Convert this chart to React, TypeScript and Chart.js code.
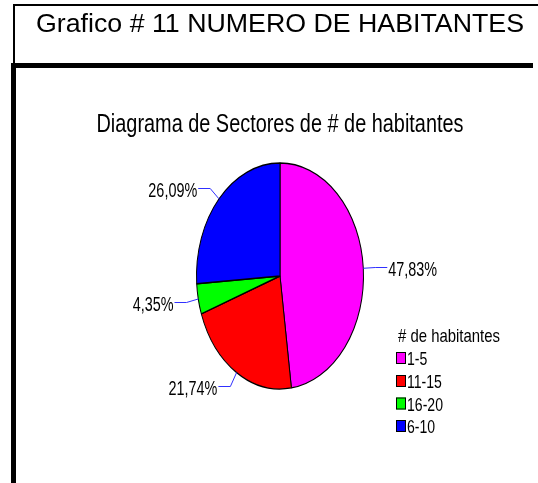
import React, { useEffect, useRef } from "react";
import { Chart, registerables } from "chart.js";

Chart.register(...registerables);

// ---- data ----
const categories = ["1-5", "11-15", "16-20", "6-10"];
const percentages = [47.83, 21.74, 4.35, 26.09];
const sliceColors = ["#FF00FF", "#FF0000", "#00FF00", "#0000FF"];
const pageTitle = "Grafico # 11 NUMERO DE HABITANTES";
const chartTitle = "Diagrama de Sectores de # de habitantes";
const legendTitle = "# de habitantes";

const FONT = '"Liberation Sans", Arial, sans-serif';
const Y_SCALE = 113 / 83.5;

function formatPct(v: number) {
  return v.toFixed(2).replace(".", ",") + "%";
}

function drawText(
  ctx: CanvasRenderingContext2D,
  text: string,
  x: number,
  y: number,
  size: number,
  opts: { width?: number; scaleX?: number; align?: "left" | "right" | "center" }
) {
  ctx.save();
  ctx.font = `${size}px ${FONT}`;
  ctx.fillStyle = "#000";
  ctx.textBaseline = "alphabetic";
  ctx.textAlign = "left";
  const w = ctx.measureText(text).width;
  const sx = opts.width ? opts.width / w : opts.scaleX ?? 1;
  const drawn = w * sx;
  let left = x;
  if (opts.align === "center") left = x - drawn / 2;
  else if (opts.align === "right") left = x - drawn;
  ctx.translate(left, y);
  ctx.scale(sx, 1);
  ctx.fillText(text, 0, 0);
  ctx.restore();
}

const decorPlugin = {
  id: "decor",
  beforeDraw(chart: any) {
    const ctx: CanvasRenderingContext2D = chart.ctx;
    ctx.save();
    ctx.fillStyle = "#fff";
    ctx.fillRect(0, 0, chart.width, chart.height);
    // thin title box
    ctx.strokeStyle = "#000";
    ctx.lineWidth = 2;
    ctx.beginPath();
    ctx.moveTo(14, 64);
    ctx.lineTo(14, 5);
    ctx.lineTo(540, 5);
    ctx.stroke();
    // thick frame
    ctx.fillStyle = "#000";
    ctx.fillRect(11, 63, 522, 5);
    ctx.fillRect(11, 63, 5, 430);
    ctx.restore();
    drawText(ctx, pageTitle, 280, 32, 25, { width: 488, align: "center" });
    drawText(ctx, chartTitle, 280, 132, 25, { width: 367, align: "center" });
  },
  beforeDatasetsDraw(chart: any) {
    const ctx: CanvasRenderingContext2D = chart.ctx;
    const arc = chart.getDatasetMeta(0).data[0];
    ctx.save();
    ctx.translate(arc.x, arc.y);
    ctx.scale(1, Y_SCALE);
    ctx.translate(-arc.x, -arc.y);
  },
  afterDatasetsDraw(chart: any) {
    chart.ctx.restore();
  },
  afterDraw(chart: any) {
    const ctx: CanvasRenderingContext2D = chart.ctx;
    const meta = chart.getDatasetMeta(0);
    meta.data.forEach((el: any, i: number) => {
      const mid = (el.startAngle + el.endAngle) / 2;
      const c = Math.cos(mid);
      const s = Math.sin(mid);
      const r = el.outerRadius;
      const px = el.x + r * c;
      const py = el.y + r * Y_SCALE * s;
      const ex = px + 12 * c;
      const ey = Math.round(py + 12 * 1.3 * s) + 0.5;
      const dir = c >= 0 ? 1 : -1;
      const hx = ex + dir * 12;
      ctx.save();
      ctx.strokeStyle = "#3030ff";
      ctx.lineWidth = 1;
      ctx.beginPath();
      ctx.moveTo(px, py);
      ctx.lineTo(ex, ey);
      ctx.lineTo(hx, ey);
      ctx.stroke();
      ctx.restore();
      drawText(ctx, formatPct(percentages[i]), hx + dir * 1, ey + 8, 20, {
        scaleX: 0.72,
        align: dir > 0 ? "left" : "right",
      });
    });
    // legend
    drawText(ctx, legendTitle, 398, 342, 19, { width: 102, align: "left" });
    const rows = [358, 381, 403.5, 426];
    categories.forEach((cat, i) => {
      const cy = rows[i];
      ctx.save();
      ctx.fillStyle = sliceColors[i];
      ctx.fillRect(396, cy - 6, 10, 12);
      ctx.strokeStyle = "#000";
      ctx.lineWidth = 1;
      ctx.strokeRect(396.5, cy - 5.5, 9, 11);
      ctx.restore();
      drawText(ctx, cat, 407, cy + 7, 19, { scaleX: 0.74, align: "left" });
    });
  },
};

export default function App() {
  const canvasRef = useRef<HTMLCanvasElement | null>(null);

  useEffect(() => {
    if (!canvasRef.current) return;
    const chart = new Chart(canvasRef.current, {
      type: "pie",
      data: {
        labels: categories,
        datasets: [
          {
            data: percentages,
            backgroundColor: sliceColors,
            borderColor: "#000",
            borderWidth: 1,
          },
        ],
      },
      options: {
        responsive: false,
        animation: false,
        events: [],
        layout: { padding: { left: 196, right: 174, top: 192, bottom: 123 } },
        plugins: {
          legend: { display: false },
          tooltip: { enabled: false },
          title: { display: false },
        },
      },
      plugins: [decorPlugin],
    } as any);
    return () => chart.destroy();
  }, []);

  return (
    <div style={{ position: "fixed", left: 0, top: 0, width: 538, height: 483, background: "#fff" }}>
      <canvas ref={canvasRef} width={538} height={483} style={{ display: "block", width: 538, height: 483 }} />
    </div>
  );
}
